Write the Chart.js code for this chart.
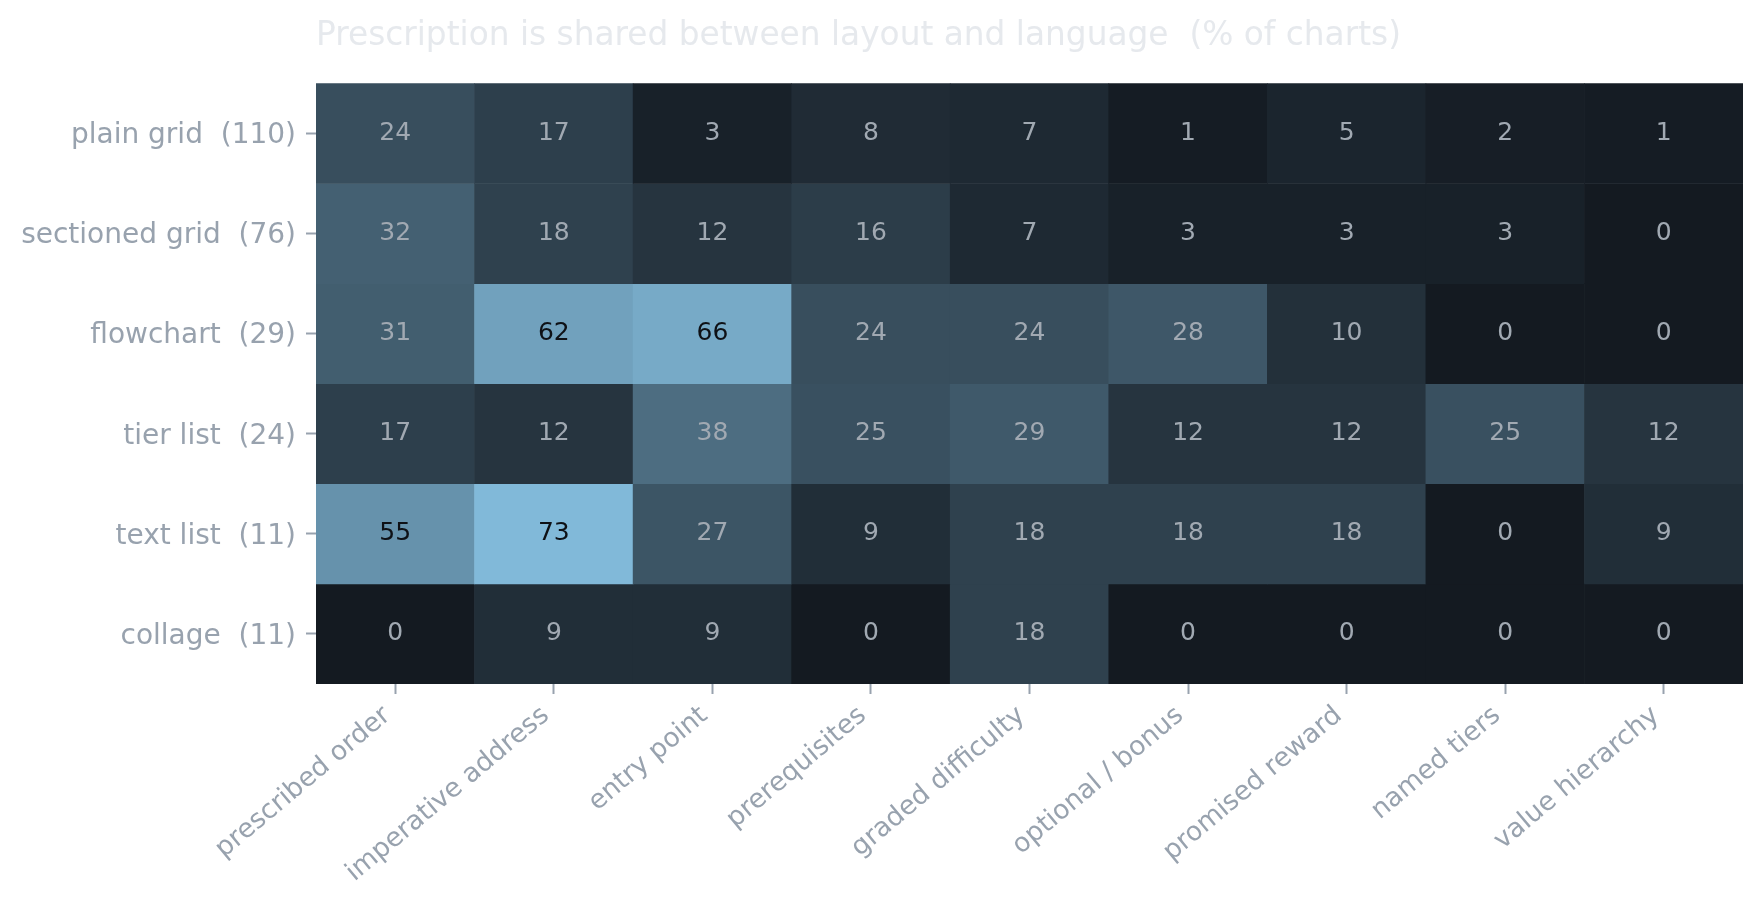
<!DOCTYPE html>
<html>
<head>
<meta charset="utf-8">
<script src="https://cdn.jsdelivr.net/npm/chart.js@4.4.1/dist/chart.umd.min.js"></script>
<style>
  html, body { margin: 0; padding: 0; background: #ffffff; }
  #wrap { width: 1762px; height: 900px; }
</style>
</head>
<body>
<div id="wrap"><canvas id="heatmap" width="1762" height="900"></canvas></div>
<script>
// Lignes (type de mise en page) et colonnes (forme de langage)
const rowLabels = ["plain grid  (110)", "sectioned grid  (76)", "flowchart  (29)", "tier list  (24)", "text list  (11)", "collage  (11)"];
const colLabels = ["prescribed order", "imperative address", "entry point", "prerequisites", "graded difficulty", "optional / bonus", "promised reward", "named tiers", "value hierarchy"];

// % de graphiques, une liste par ligne
const plainGrid     = [24, 17, 3, 8, 7, 1, 5, 2, 1];
const sectionedGrid = [32, 18, 12, 16, 7, 3, 3, 3, 0];
const flowchart     = [31, 62, 66, 24, 24, 28, 10, 0, 0];
const tierList      = [17, 12, 38, 25, 29, 12, 12, 25, 12];
const textList      = [55, 73, 27, 9, 18, 18, 18, 0, 9];
const collage       = [0, 9, 9, 0, 18, 0, 0, 0, 0];
const rowValues = [plainGrid, sectionedGrid, flowchart, tierList, textList, collage];

const titleText = "Prescription is shared between layout and language  (% of charts)";

// Echelle de couleur : noir bleuté -> bleu clair
const lowColor = [20, 26, 33];
const highColor = [129, 185, 217];
const maxValue = Math.max(...rowValues.flat());

function couleur(v) {
  const t = v / maxValue;
  const c = lowColor.map((lo, k) => Math.round(lo + (highColor[k] - lo) * t));
  return `rgb(${c[0]}, ${c[1]}, ${c[2]})`;
}

const tickGray = "#98a2ae";

// Ecrire la valeur au centre de chaque case
const etiquettesCases = {
  id: "etiquettesCases",
  afterDatasetsDraw(chart) {
    const ctx = chart.ctx;
    ctx.save();
    ctx.font = "25px 'DejaVu Sans'";
    ctx.textAlign = "center";
    ctx.textBaseline = "middle";
    chart.data.datasets.forEach((ds, r) => {
      const meta = chart.getDatasetMeta(r);
      meta.data.forEach((bar, c) => {
        const v = rowValues[r][c];
        const p = bar.getCenterPoint();
        ctx.fillStyle = v / maxValue > 0.6 ? "#0e1116" : "#a1a9b2";
        ctx.fillText(String(v), p.x, p.y);
      });
    });
    ctx.restore();
  }
};

// Une serie par ligne : barres flottantes [r - 0.5, r + 0.5]
const datasets = rowValues.map((vals, r) => ({
  label: rowLabels[r],
  data: colLabels.map(() => [r - 0.5, r + 0.5]),
  backgroundColor: vals.map(v => couleur(v)),
  borderWidth: 0,
  grouped: false,
  barPercentage: 1,
  categoryPercentage: 1
}));

new Chart(document.querySelector("#heatmap"), {
  type: "bar",
  data: { labels: colLabels, datasets: datasets },
  options: {
    responsive: false,
    animation: false,
    devicePixelRatio: 1,
    layout: { padding: { left: 0, right: 19, top: 0, bottom: 0 } },
    plugins: {
      legend: { display: false },
      tooltip: { enabled: false },
      title: {
        display: true,
        text: titleText,
        align: "start",
        fullSize: false,
        color: "#e6e9ed",
        font: { family: "'DejaVu Sans'", size: 32.8, weight: "normal" },
        padding: { top: 17, bottom: 27 }
      }
    },
    scales: {
      x: {
        type: "category",
        offset: true,
        border: { display: false },
        grid: { display: true, offset: false, drawOnChartArea: false, drawTicks: true, tickLength: 10, tickColor: tickGray, tickWidth: 2 },
        ticks: {
          color: tickGray,
          font: { family: "'DejaVu Sans'", size: 26.5 },
          autoSkip: false,
          minRotation: 40,
          maxRotation: 40,
          padding: 6,
          labelOffset: -8
        },
        afterFit(scale) { scale.height = 216; }
      },
      y: {
        type: "linear",
        reverse: true,
        min: -0.5,
        max: 5.5,
        border: { display: false },
        grid: { display: true, drawOnChartArea: false, drawTicks: true, tickLength: 10, tickColor: tickGray, tickWidth: 2 },
        afterBuildTicks(scale) {
          scale.ticks = rowLabels.map((_, i) => ({ value: i }));
        },
        ticks: {
          color: tickGray,
          font: { family: "'DejaVu Sans'", size: 28 },
          padding: 10,
          labelOffset: 2.5,
          callback: (v) => rowLabels[v]
        },
        afterFit(scale) { scale.width = 316; }
      }
    }
  },
  plugins: [etiquettesCases]
});
</script>
</body>
</html>
